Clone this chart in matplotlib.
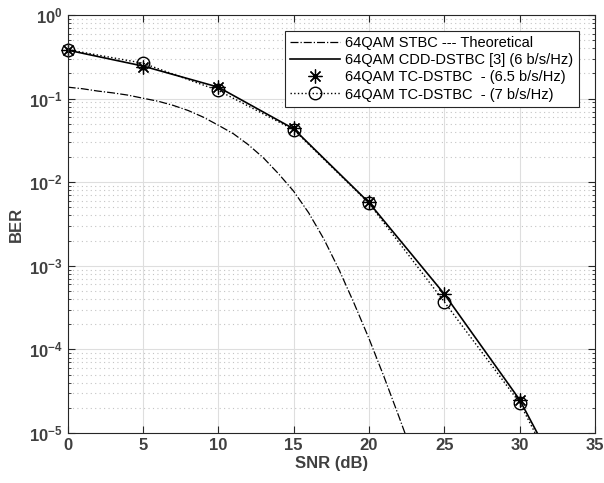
import numpy as np
import matplotlib.pyplot as plt

plt.rcParams['font.family'] = ['Liberation Sans', 'DejaVu Sans']

# theoretical curve (dB -> BER)
snr_th = [0, 1, 2, 3, 4, 5, 6, 7, 8, 9, 10, 11, 12, 13, 14, 15, 16, 17, 18, 19, 20, 21, 22, 23]
ber_th = [0.137, 0.131, 0.123, 0.117, 0.11, 0.101, 0.093, 0.083, 0.072, 0.060, 0.048,
          0.038, 0.028, 0.0195, 0.0126, 0.0078, 0.0043, 0.0021, 9.1e-4, 3.6e-4, 1.35e-4,
          4.7e-5, 1.55e-5, 5e-6]

snr = [0, 5, 10, 15, 20, 25, 30, 35]
ber_cdd = [0.38, 0.245, 0.137, 0.0435, 0.0057, 4.6e-4, 2.5e-5, 5e-7]
ber_tc65 = [0.385, 0.24, 0.138, 0.044, 0.0058, 4.6e-4, 2.5e-5, 5e-7]
ber_tc7 = [0.385, 0.265, 0.125, 0.0425, 0.0056, 3.7e-4, 2.3e-5, 4e-7]

labels = ["64QAM STBC --- Theoretical",
          "64QAM CDD-DSTBC [3] (6 b/s/Hz)",
          "64QAM TC-DSTBC  - (6.5 b/s/Hz)",
          "64QAM TC-DSTBC  - (7 b/s/Hz)"]

fig = plt.figure(figsize=(6.04, 4.83), dpi=100)
ax = fig.add_axes([0.112, 0.1035, 0.873, 0.8655])

ax.semilogy(snr_th, ber_th, color='black', linestyle='-.', linewidth=0.9, label=labels[0])
ax.semilogy(snr, ber_cdd, color='black', linestyle='-', linewidth=1.2, label=labels[1])

# markers inside the y range are drawn unclipped (like MATLAB)
x = np.array(snr)
m65 = np.array(ber_tc65) >= 1e-5
m7 = np.array(ber_tc7) >= 1e-5
ax.semilogy(x[m65], np.array(ber_tc65)[m65], color='black', linestyle='none',
            marker=(8, 2, 0), markersize=10, markeredgewidth=0.9, clip_on=False,
            label=labels[2])
ax.semilogy(snr, ber_tc7, color='black', linestyle=':', linewidth=1.0)
ax.semilogy(x[m7], np.array(ber_tc7)[m7], color='black', linestyle='none', marker='o',
            markersize=9, markerfacecolor='none', markeredgewidth=1.0, clip_on=False)
# legend proxy for the dotted + circle series
ax.plot([], [], color='black', linestyle=':', linewidth=1.0, marker='o', markersize=9,
        markerfacecolor='none', markeredgewidth=1.0, label=labels[3])

ax.set_xlim(0, 35)
ax.set_ylim(1e-5, 1)
ax.set_xticks([0, 5, 10, 15, 20, 25, 30, 35])

ax.grid(True, which='major', color='#dedede', linestyle='-', linewidth=0.8)
ax.grid(True, which='minor', color='#c4c4c4', linestyle=(0, (1, 3)), linewidth=0.8)
ax.set_axisbelow(True)

for s in ax.spines.values():
    s.set_color('#262626')
    s.set_linewidth(0.8)
ax.tick_params(which='both', direction='in', top=True, right=True, colors='#262626',
               labelsize=12)
ax.tick_params(which='major', length=5)
ax.tick_params(which='minor', length=2.5)
for t in ax.get_xticklabels() + ax.get_yticklabels():
    t.set_fontweight('bold')
    t.set_color('#404040')

ax.set_xlabel("SNR (dB)", fontsize=12, fontweight='bold', color='#404040', labelpad=2)
ax.set_ylabel("BER", fontsize=12, fontweight='bold', color='#404040', labelpad=4)

leg = ax.legend(loc='upper left', bbox_to_anchor=(0.412, 0.962), fontsize=10.5,
                fancybox=False, framealpha=1, edgecolor='#262626',
                handlelength=3.4, borderpad=0.35, labelspacing=0.22, handletextpad=0.4,
                borderaxespad=0)
leg.get_frame().set_linewidth(0.8)

fig.savefig("out.png", dpi=100)
